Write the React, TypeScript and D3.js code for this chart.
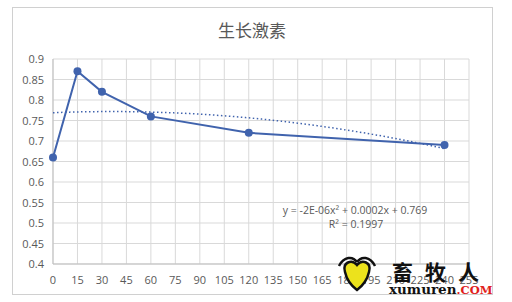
import React from "react";
import * as d3 from "d3";

const title = "生长激素";
const xValues = [0, 15, 30, 60, 120, 240];
const yValues = [0.66, 0.87, 0.82, 0.76, 0.72, 0.69];
const xTicks = d3.range(0, 256, 15);
const yTicks = [0.4, 0.45, 0.5, 0.55, 0.6, 0.65, 0.7, 0.75, 0.8, 0.85, 0.9];
const equationText = "y = -2E-06x² + 0.0002x + 0.769";
const r2Text = "R² = 0.1997";

function polyFit2(xs: number[], ys: number[]) {
  // least squares quadratic fit (Excel polynomial trendline, order 2)
  const n = xs.length;
  const S = (p: number) => d3.sum(xs, (x) => Math.pow(x, p));
  const T = (p: number) => d3.sum(xs.map((x, i) => Math.pow(x, p) * ys[i]));
  const A = [
    [n, S(1), S(2)],
    [S(1), S(2), S(3)],
    [S(2), S(3), S(4)],
  ];
  const b = [T(0), T(1), T(2)];
  const M = A.map((r, i) => [...r, b[i]]);
  for (let i = 0; i < 3; i++) {
    let p = i;
    for (let k = i + 1; k < 3; k++) if (Math.abs(M[k][i]) > Math.abs(M[p][i])) p = k;
    [M[i], M[p]] = [M[p], M[i]];
    for (let k = 0; k < 3; k++) {
      if (k === i) continue;
      const f = M[k][i] / M[i][i];
      for (let j = i; j < 4; j++) M[k][j] -= f * M[i][j];
    }
  }
  const c = M.map((r, i) => r[3] / r[i]);
  return (x: number) => c[0] + c[1] * x + c[2] * x * x;
}

export default function App() {
  const W = 512, H = 302;
  const left = 53, right = 469, top = 59, bottom = 264;
  const x = d3.scaleLinear().domain([0, 255]).range([left, right]);
  const y = d3.scaleLinear().domain([0.4, 0.9]).range([bottom, top]);
  const data = xValues.map((v, i) => [v, yValues[i]] as [number, number]);
  const line = d3.line<[number, number]>().x((d) => x(d[0])).y((d) => y(d[1]));
  const fit = polyFit2(xValues, yValues);
  const trend = d3.range(0, 242, 2).map((v) => [v, fit(v)] as [number, number]);
  const gray = "#595959";
  const font = "'Open Sans', 'Liberation Sans', Arial, sans-serif";
  const blue = "#4063ad";

  return (
    <svg width={W} height={H} style={{ position: "absolute", left: 0, top: 0, background: "#fff" }}>
      <rect x={0} y={0} width={W} height={H} fill="#fff" />
      <rect x={12.5} y={7.5} width={480} height={287} fill="#fff" stroke="#d0d0d0" />
      <text x={252} y={37} textAnchor="middle" fontSize={17} fill={gray}
        fontFamily="'Noto Sans CJK SC', sans-serif">{title}</text>
      {yTicks.map((t) => (
        <g key={"y" + t}>
          <line x1={left} x2={right} y1={y(t)} y2={y(t)} stroke="#d9d9d9" strokeWidth={1} />
          <text x={44} y={y(t) + 4} textAnchor="end" fontSize={11} fill={gray} fontFamily={font}>{t}</text>
        </g>
      ))}
      {xTicks.map((t) => (
        <g key={"x" + t}>
          <line x1={x(t)} x2={x(t)} y1={top} y2={bottom} stroke="#d9d9d9" strokeWidth={1} />
          <text x={x(t)} y={284} textAnchor="middle" fontSize={11} fill={gray} fontFamily={font}>{t}</text>
        </g>
      ))}
      <line x1={left} x2={right} y1={bottom} y2={bottom} stroke="#bfbfbf" />
      <line x1={left} x2={left} y1={top} y2={bottom} stroke="#bfbfbf" />
      <path d={line(trend) || ""} fill="none" stroke={blue} strokeWidth={1.5} strokeDasharray="1.5,2.5" />
      <path d={line(data) || ""} fill="none" stroke={blue} strokeWidth={2} />
      {data.map((d, i) => (
        <circle key={i} cx={x(d[0])} cy={y(d[1])} r={4} fill={blue} />
      ))}
      <text x={355} y={214} textAnchor="middle" fontSize={10.5} fill={gray} fontFamily={font}>{equationText}</text>
      <text x={356} y={228} textAnchor="middle" fontSize={10.5} fill={gray} fontFamily={font}>{r2Text}</text>
      <g>
        <path d="M345,272 C342,262 352,259 357,265 C362,259 372,262 369,272 C367,281 361,287 357,290 C353,287 347,281 345,272 Z"
          fill="#ece21c" stroke="#111" strokeWidth={2.5} />
        <path d="M339,266 C344,256 353,256 357,262 M375,266 C370,256 361,256 357,262" fill="none" stroke="#111" strokeWidth={2.5} />
        <text x={392} y={280} fontSize={21} fontWeight="bold" fill="#111" letterSpacing={12}
          fontFamily="'Noto Sans CJK SC', sans-serif">畜牧人</text>
        <text x={389} y={294} fontSize={13.5} fontWeight="bold" fill="#111" fontFamily="'DejaVu Serif', serif">xumuren<tspan fill="#e0201b" fontSize={11.5}>.COM</tspan></text>
      </g>
    </svg>
  );
}
